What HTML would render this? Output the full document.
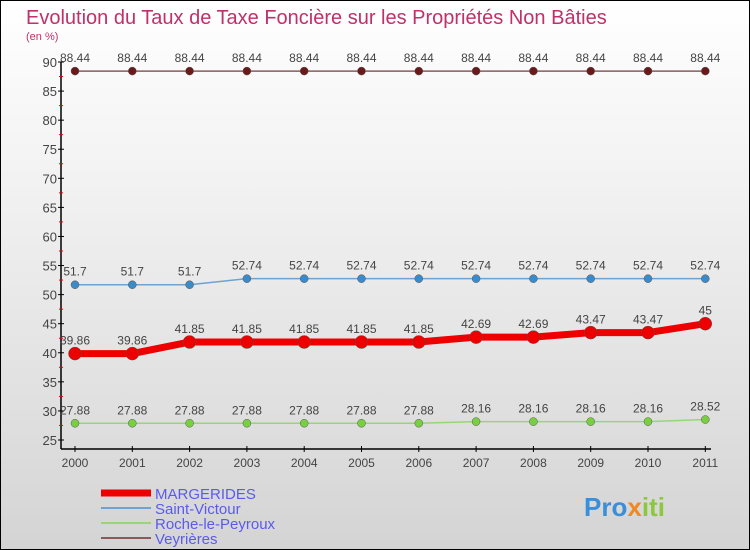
<!DOCTYPE html>
<html><head><meta charset="utf-8"><style>
body{margin:0;width:750px;height:550px;overflow:hidden;font-family:"Liberation Sans",sans-serif}
#wrap{position:relative;width:748px;height:548px;border:1px solid #000;background:linear-gradient(#fff,#f1f1f1 35%,#d4d4d4)}
</style></head><body>
<div id="wrap">
<svg id="chart" width="748" height="548" style="position:absolute;left:0;top:0">
<text x="25" y="23" font-size="20" fill="#c0306a">Evolution du Taux de Taxe Foncière sur les Propriétés Non Bâties</text>
<text x="25" y="39" font-size="11" fill="#c0306a">(en %)</text>
<text x="583" y="515" font-size="26" font-weight="bold" fill="#3a8fd8">Pro<tspan fill="#f08a20">x</tspan><tspan fill="#8cc83c">iti</tspan></text>
</svg>
</div>
<script>
const years=[2000,2001,2002,2003,2004,2005,2006,2007,2008,2009,2010,2011];
const margerides=[39.86,39.86,41.85,41.85,41.85,41.85,41.85,42.69,42.69,43.47,43.47,45];
const saintVictour=[51.7,51.7,51.7,52.74,52.74,52.74,52.74,52.74,52.74,52.74,52.74,52.74];
const roche=[27.88,27.88,27.88,27.88,27.88,27.88,27.88,28.16,28.16,28.16,28.16,28.52];
const veyrieres=[88.44,88.44,88.44,88.44,88.44,88.44,88.44,88.44,88.44,88.44,88.44,88.44];
const yTicks=[25,30,35,40,45,50,55,60,65,70,75,80,85,90];
const NS="http://www.w3.org/2000/svg";
const svg=document.getElementById('chart');
const X=i=>74+i*57.3, Y=v=>439-(v-25)*(378/65);
function mk(t,a,p){const e=document.createElementNS(NS,t);for(const k in a)e.setAttribute(k,a[k]);(p||svg).appendChild(e);return e;}
const axis=mk('g',{});


mk('line',{x1:60,y1:Y(90),x2:60,y2:448,stroke:'#000','stroke-width':1.5},axis);
mk('line',{x1:60,y1:448,x2:710,y2:448,stroke:'#000','stroke-width':1.5},axis);
yTicks.forEach(v=>{
  mk('line',{x1:57,x2:63,y1:Y(v),y2:Y(v),stroke:'#000'},axis);
  if(v<90)mk('line',{x1:58,x2:62,y1:Y(v+2.5),y2:Y(v+2.5),stroke:'#e00'},axis);
  const t=mk('text',{x:56,y:Y(v)+5,'text-anchor':'end','font-size':13,fill:'#444'},axis);
  t.textContent=v;
  
  
});
years.forEach((y,i)=>{
  mk('line',{x1:X(i),x2:X(i),y1:445,y2:451,stroke:'#000'},axis);
  const t=mk('text',{x:X(i),y:466,'text-anchor':'middle','font-size':12,fill:'#444'},axis);
  t.textContent=y;
  
  
});
function series(data,color,dot,w,r,name){
  const g=mk('g',{});
  
  
  mk('polyline',{points:data.map((v,i)=>X(i)+','+Y(v)).join(' '),fill:'none',stroke:color,'stroke-width':w},g);
  data.forEach((v,i)=>{
    const c=mk('circle',{cx:X(i),cy:Y(v),r:r,fill:dot,stroke:'#555','stroke-width':0.5},g);
    
    
    const t=mk('text',{x:X(i),y:Y(v)-9,'text-anchor':'middle','font-size':12,fill:'#444'},g);
    t.textContent=String(v);
    
    
  });
}
series(veyrieres,'#8a5a5a','#6b1a1a',1.5,4,'veyrieres-series');
series(saintVictour,'#6fa2d0','#3d8ac8',1.5,4,'saint-victour-series');
series(roche,'#9ad47a','#78d040',1.5,4,'roche-le-peyroux-series');
series(margerides,'#ee0000','#ee0000',7,6.5,'margerides-series');
const leg=[['MARGERIDES','#ee0000',7],['Saint-Victour','#6fa2d0',2],['Roche-le-Peyroux','#9ad47a',2],['Veyrières','#8a5a5a',2]];
leg.forEach((l,i)=>{
  const g=mk('g',{});
  
  
  const y=492+i*15;
  mk('line',{x1:100,x2:150,y1:y,y2:y,stroke:l[1],'stroke-width':l[2]},g);
  const t=mk('text',{x:154,y:y+6,'font-size':15,fill:'#5a5af0'},g);
  t.textContent=l[0];
});
</script>
</body></html>
